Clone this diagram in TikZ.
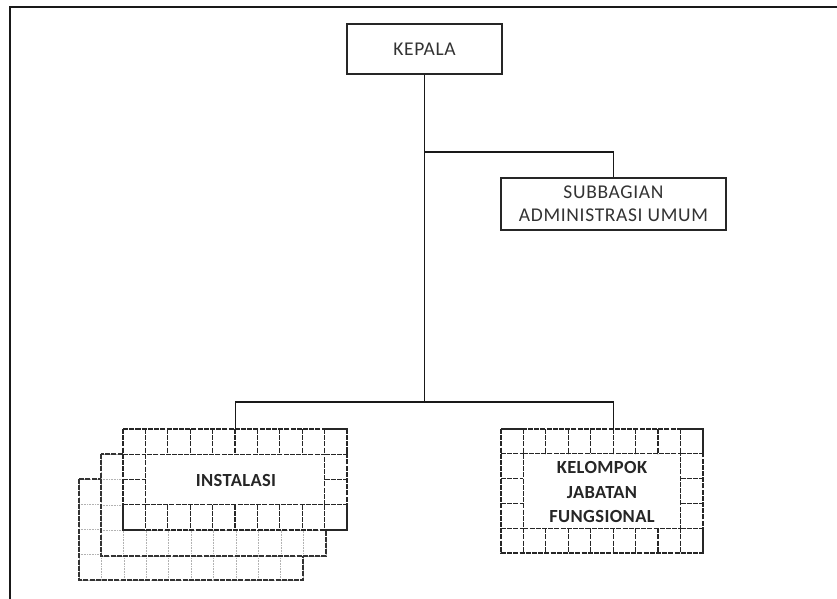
\documentclass[tikz,border=0pt]{standalone}
\usepackage{fontspec}
\setmainfont{Carlito}
\begin{document}
\begin{tikzpicture}[x=1pt,y=-1pt,
  conn/.style={draw=black!90,line width=1.3pt},
  orgbox/.style={draw=black!85,line width=1.3pt,fill=white,inner sep=0pt,align=center,
     font=\fontsize{19.5}{23}\selectfont\addfontfeature{LetterSpace=3.4},text=black!80},
  boldtxt/.style={inner sep=0pt,align=center,font=\fontsize{18.5}{24.5}\selectfont\bfseries\addfontfeature{LetterSpace=2},text=black!85},
  gridfront/.style={draw=black!85,line width=1.2pt,dash pattern=on 5pt off 1.2pt},
  gridback/.style={draw=black!30,line width=0.6pt,densely dotted},
  borderback/.style={draw=black!80,line width=1.1pt,dash pattern=on 5pt off 1.2pt}]
\useasboundingbox (0,0) rectangle (837,599);
\fill[white] (0,0) rectangle (837,599);
% page frame (cropped at right and bottom)
\draw[black!90,line width=2.4pt] (10,620) -- (10,7) -- (860,7);

\newcommand\gridbox[7]{%
  \pgfmathsetmacro\gW{#3*#5}\pgfmathsetmacro\gH{#4*#6}%
  \fill[white] (#1,#2) rectangle (#1+\gW,#2+\gH);
  \foreach \i in {0,...,#6} {
    \draw[#7] (#1,#2+\i*#4) -- (#1+#3,#2+\i*#4);
    \draw[#7] (#1+\gW-#3,#2+\i*#4) -- (#1+\gW,#2+\i*#4);}
  \foreach \j in {0,...,#5} {
    \draw[#7] (#1+\j*#3,#2) -- (#1+\j*#3,#2+#4);
    \draw[#7] (#1+\j*#3,#2+\gH-#4) -- (#1+\j*#3,#2+\gH);}
  \draw[#7] (#1,#2) rectangle (#1+\gW,#2+\gH);
  \draw[#7] (#1+#3,#2+#4) rectangle (#1+\gW-#3,#2+\gH-#4);
}

% stacked INSTALASI boxes, back to front
\gridbox{79}{479}{22.4}{25.25}{10}{4}{gridback}
\draw[borderback] (79,479) rectangle (303,580);
\gridbox{101}{454}{22.5}{25.5}{10}{4}{gridback}
\draw[borderback] (101,454) rectangle (326,556);
\gridbox{123}{429}{22.4}{25.25}{10}{4}{gridfront}
% KELOMPOK grid box
\gridbox{501}{429}{22.44}{24.8}{9}{5}{gridfront}

% nodes
\node[orgbox,minimum width=155pt,minimum height=50pt] (kepala) at (424.5,49) {KEPALA};
\node[orgbox,minimum width=225pt,minimum height=52pt] (subbag) at (613.5,204)
  {SUBBAGIAN\\ADMINISTRASI UMUM};
\node[boldtxt] (instalasi) at (236,480) {INSTALASI};
\node[boldtxt] (kelompok) at (602,492) {KELOMPOK\\JABATAN\\FUNGSIONAL};

\coordinate (b1) at (424.5,152);
\coordinate (b2) at (424.5,402);
\coordinate (instTop) at (235.5,429);
\coordinate (kelTop) at (613.2,429);

% connectors
\draw[conn] (kepala.south) -- (b2);
\draw[conn] (b1) -| (subbag.north);
\draw[conn] (b2) -| (instTop);
\draw[conn] (b2) -| (kelTop);
\end{tikzpicture}
\end{document}
